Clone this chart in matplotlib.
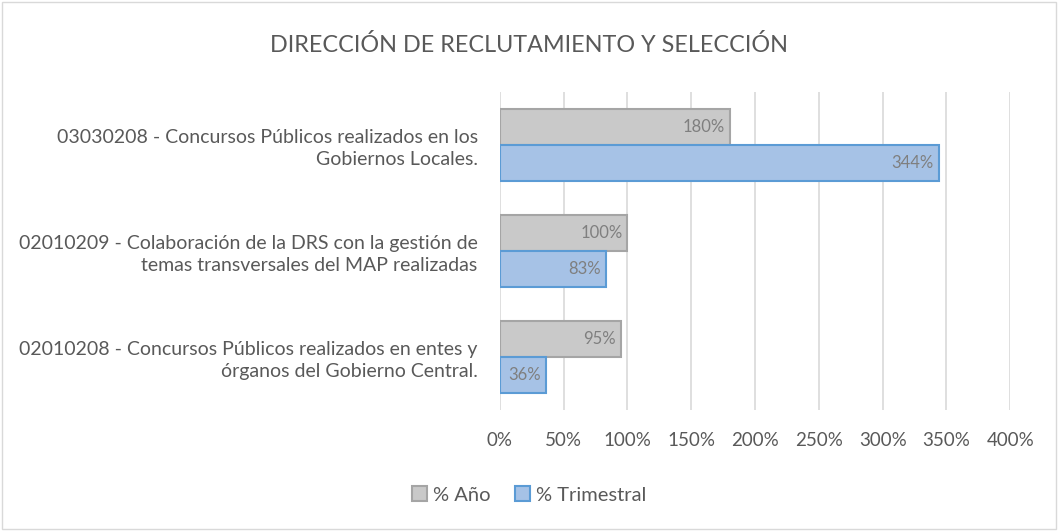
import matplotlib.pyplot as plt
import numpy as np
from matplotlib.patches import Rectangle

plt.rcParams['font.family'] = ['Lato', 'DejaVu Sans']

# data (bottom to top, as in the picture)
categorias = ['02010208 - Concursos Públicos realizados en entes y\nórganos del Gobierno Central.',
              '02010209 - Colaboración de la DRS con la gestión de\ntemas transversales del MAP realizadas',
              '03030208 - Concursos Públicos realizados en los\nGobiernos Locales.']
pct_anio = [95, 100, 180]
pct_trim = [36, 83, 344]
ticks = [0, 50, 100, 150, 200, 250, 300, 350, 400]

fig = plt.figure(figsize=(10.59, 5.31), dpi=100)
fig.patches.append(Rectangle((0.002, 0.003), 0.995, 0.993, transform=fig.transFigure,
                             fill=False, edgecolor='#d9d9d9', linewidth=1))
ax = fig.add_axes([0.472, 0.228, 0.482, 0.599])

y = np.arange(len(categorias))
h = 0.34
b1 = ax.barh(y + h/2, pct_anio, height=h, color='#c9c9c9', edgecolor='#a5a5a5', linewidth=1.5, label='% Año', zorder=3)
b2 = ax.barh(y - h/2, pct_trim, height=h, color='#a6c2e6', edgecolor='#5b9bd5', linewidth=1.5, label='% Trimestral', zorder=3)

for bars in (b1, b2):
    for r in bars:
        ax.text(r.get_width() - 4, r.get_y() + r.get_height()/2, '%d%%' % r.get_width(),
                ha='right', va='center', fontsize=12, color='#7f7f7f', zorder=4)

ax.set_xlim(0, 400)
ax.set_ylim(-0.5, 2.5)
ax.set_xticks(ticks)
ax.set_xticklabels(['%d%%' % t for t in ticks], fontsize=13.5, color='#595959')
ax.set_yticks(y)
ax.set_yticklabels(categorias, fontsize=14, color='#595959', ha='right')
ax.tick_params(axis='both', length=0)
ax.tick_params(axis='x', pad=16)
ax.tick_params(axis='y', pad=16)
for lbl in ax.get_yticklabels():
    lbl.set_multialignment('right')
    lbl.set_linespacing(1.3)
ax.grid(axis='x', color='#d9d9d9', linewidth=1.2, zorder=0)
for s in ax.spines.values():
    s.set_visible(False)

fig.text(0.5, 0.915, 'DIRECCIÓN DE RECLUTAMIENTO Y SELECCIÓN', ha='center', va='center',
         fontsize=16.8, color='#595959')

fig.legend(handles=[b1, b2], loc='center', bbox_to_anchor=(0.5, 0.068), ncol=2, frameon=False,
           fontsize=14.5, labelcolor='#595959', handlelength=0.75, handleheight=0.75,
           handletextpad=0.3, columnspacing=1.2)

fig.savefig('out.png', dpi=100)
